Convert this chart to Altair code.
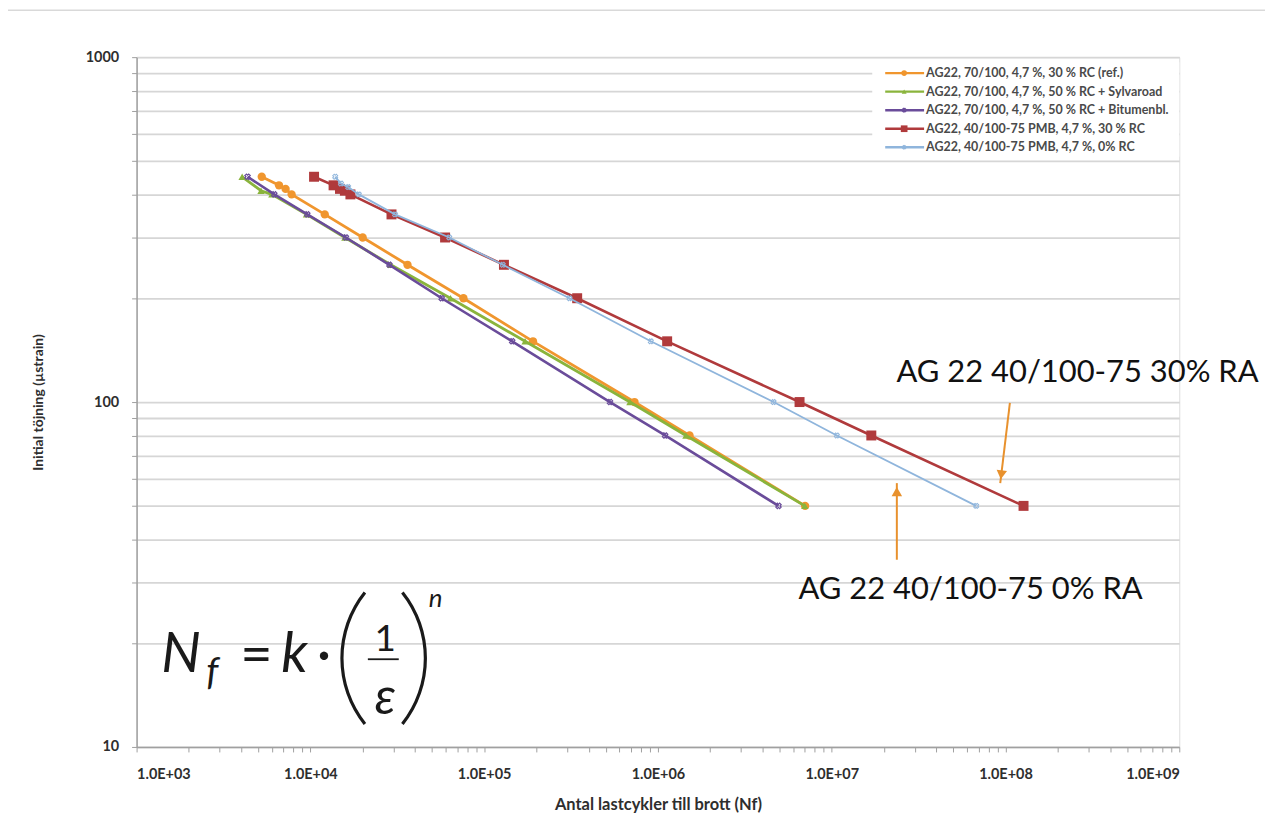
import altair as alt
import pandas as pd
import math

# ---------------- data ----------------
series_names = [
    "AG22, 70/100, 4,7 %, 30 % RC (ref.)",
    "AG22, 70/100, 4,7 %, 50 % RC + Sylvaroad",
    "AG22, 70/100, 4,7 %, 50 % RC + Bitumenbl.",
    "AG22, 40/100-75 PMB, 4,7 %, 30 % RC",
    "AG22, 40/100-75 PMB, 4,7 %, 0% RC",
]
series_colors = ["#F0962E", "#8AB43C", "#6A4C9A", "#B03A3C", "#8FB5DC"]

ref_strain = [450, 425, 415, 400, 350, 300, 250, 200, 150, 100, 80, 50]
ref_cycles = [5.25e3, 6.6e3, 7.2e3, 7.8e3, 1.21e4, 2.0e4, 3.62e4, 7.6e4, 1.91e5, 7.33e5, 1.52e6, 7.03e6]

syl_strain = [450, 410, 400, 350, 300, 250, 200, 150, 100, 80, 50]
syl_cycles = [4.05e3, 5.2e3, 6.0e3, 9.5e3, 1.58e4, 2.9e4, 6.4e4, 1.72e5, 6.9e5, 1.45e6, 7.0e6]

bit_strain = [450, 400, 350, 300, 250, 200, 150, 100, 80, 50]
bit_cycles = [4.35e3, 6.2e3, 9.6e3, 1.6e4, 2.85e4, 5.7e4, 1.45e5, 5.3e5, 1.1e6, 4.94e6]

pmb30_strain = [450, 425, 415, 410, 400, 350, 300, 250, 200, 150, 100, 80, 50]
pmb30_cycles = [1.05e4, 1.36e4, 1.48e4, 1.58e4, 1.70e4, 2.93e4, 5.96e4, 1.30e5, 3.43e5, 1.13e6, 6.53e6, 1.69e7, 1.27e8]

pmb0_strain = [450, 430, 420, 400, 350, 300, 250, 200, 150, 100, 80, 50]
pmb0_cycles = [1.39e4, 1.5e4, 1.65e4, 1.9e4, 3.07e4, 6.3e4, 1.28e5, 3.1e5, 9.1e5, 4.63e6, 1.07e7, 6.78e7]

x_tick_values = [m * 10 ** e for e in range(3, 9) for m in range(1, 10)] + [10 ** 9]
y_tick_values = [m * 10 ** e for e in range(1, 3) for m in range(1, 10)] + [1000]

# annotations (data coordinates)
label_30 = "AG 22 40/100-75 30% RA"
label_0 = "AG 22 40/100-75 0% RA"
label_30_pos = (2.36e7, 121.0)
label_0_pos = (6.44e6, 28.6)
arrow_30 = ((1.06e8, 99.5), (9.33e7, 58.2), (9.46e7, 61.5))  # start, tip, head centre
arrow_0 = ((2.37e7, 34.9), (2.37e7, 58.2), (2.37e7, 55.0))

# ---------------- styling ----------------
W, H = 1046, 692
FONT = "Lato"
FORMULA_FONT = "Lato"
ARROW_COLOR = "#E8912D"

xscale = alt.Scale(type="log", domain=[1e3, 1e9], nice=False)
yscale = alt.Scale(type="log", domain=[10, 1000], nice=False)

dec_test = "abs(log(datum.value)/LN10 - round(log(datum.value)/LN10)) < 0.001"
xaxis = alt.Axis(
    values=x_tick_values, grid=False, tickSize=5, tickColor="#A0A0A0", tickWidth=1,
    domainColor="#A0A0A0", domainWidth=1.5,
    labelExpr=f"{dec_test} ? '1.0E+0' + round(log(datum.value)/LN10) : ''",
    labelOverlap=False, labelFont=FONT, labelFontWeight="bold", labelFontSize=14.5,
    labelColor="#2E2E2E", labelPadding=16, title="Antal lastcykler till brott (Nf)",
    titleFont=FONT, titleFontWeight="bold", titleFontSize=16.5, titleColor="#2E2E2E",
    titlePadding=15,
)
yaxis = alt.Axis(
    values=y_tick_values, grid=True, gridColor="#D6D6D6", gridWidth=1.8,
    tickSize=5, tickColor="#A0A0A0", tickWidth=1, domainColor="#A0A0A0", domainWidth=1.5,
    labelExpr=f"{dec_test} ? format(datum.value, 'd') : ''",
    labelOverlap=False, labelFont=FONT, labelFontWeight="bold", labelFontSize=14.5,
    labelColor="#2E2E2E", labelPadding=13, title="Initial töjning (µstrain)",
    titleFont=FONT, titleFontWeight="bold", titleFontSize=14, titleColor="#2E2E2E",
    titlePadding=40,
)


def X(field="cycles"):
    return alt.X(f"{field}:Q", scale=xscale, axis=xaxis)


def Y(field="strain"):
    return alt.Y(f"{field}:Q", scale=yscale, axis=yaxis)


marker_styles = [
    dict(shape="circle", size=70, filled=True),
    dict(shape="triangle-up", size=55, filled=True),
    dict(shape="cross", size=30, filled=False, strokeWidth=1.2, angle=45),
    dict(shape="square", size=100, filled=True),
    dict(shape="cross", size=26, filled=False, strokeWidth=1.0, angle=45),
]
line_widths = [2.8, 2.8, 2.6, 2.6, 1.8]

all_series = [
    (ref_cycles, ref_strain),
    (syl_cycles, syl_strain),
    (bit_cycles, bit_strain),
    (pmb30_cycles, pmb30_strain),
    (pmb0_cycles, pmb0_strain),
]

one = pd.DataFrame({"a": [0]})
layers = []
# legend background box over the grid
layers.append(alt.Chart(one).mark_rect(color="white").encode(
    x=alt.value(738), x2=alt.value(W), y=alt.value(5), y2=alt.value(100)))
# thin frame line at the top of the picture
layers.append(alt.Chart(one).mark_rule(color="#D9D9D9", strokeWidth=1.5).encode(
    x=alt.value(-129), x2=alt.value(W + 86), y=alt.value(-47)))

for name, color, (cyc, stn), mstyle, lw in zip(series_names, series_colors, all_series, marker_styles, line_widths):
    df = pd.DataFrame({"cycles": cyc, "strain": stn, "series": name})
    base = alt.Chart(df)
    layers.append(base.mark_line(color=color, strokeWidth=lw).encode(x=X(), y=Y()))
    layers.append(base.mark_point(color=color, opacity=1, **mstyle).encode(x=X(), y=Y()))

# legend (manual, top right)
for i, (name, color, mstyle) in enumerate(zip(series_names, series_colors, marker_styles)):
    ry = 16 + 18.6 * i
    layers.append(alt.Chart(one).mark_rule(color=color, strokeWidth=2.4).encode(
        x=alt.value(751), x2=alt.value(790), y=alt.value(ry)))
    ms = dict(mstyle)
    ms["size"] = ms["size"] * 0.45
    layers.append(alt.Chart(one).mark_point(color=color, opacity=1, **ms).encode(
        x=alt.value(770), y=alt.value(ry)))
    layers.append(alt.Chart(pd.DataFrame({"t": [name]})).mark_text(
        align="left", baseline="middle", font=FONT, fontSize=12.5, fontWeight="bold",
        color="#4A4A4A").encode(x=alt.value(792), y=alt.value(ry), text="t:N"))

# annotations with arrows
for (start, tip, head), shape, ang in [(arrow_30, "triangle-down", 7), (arrow_0, "triangle-up", 0)]:
    seg = pd.DataFrame({"cycles": [start[0]], "strain": [start[1]], "c2": [tip[0]], "s2": [tip[1]]})
    layers.append(alt.Chart(seg).mark_rule(color=ARROW_COLOR, strokeWidth=2).encode(
        x=X(), y=Y(), x2="c2:Q", y2="s2:Q"))
    hd = pd.DataFrame({"cycles": [head[0]], "strain": [head[1]]})
    layers.append(alt.Chart(hd).mark_point(shape=shape, filled=True, size=110, angle=ang,
                                            color=ARROW_COLOR, opacity=1).encode(x=X(), y=Y()))

for text, (cx, cy) in [(label_30, label_30_pos), (label_0, label_0_pos)]:
    tdf = pd.DataFrame({"cycles": [cx], "strain": [cy], "t": [text]})
    layers.append(alt.Chart(tdf).mark_text(align="left", baseline="middle", font=FONT,
                                           fontSize=31, color="#111111").encode(
        x=X(), y=Y(), text="t:N"))

# fatigue formula  N_f = k * (1/eps)^n
formula_parts = [
    ("N", 24.7, 617, 56, "italic", "left"),
    ("f", 70, 630, 38, "italic", "left"),
    ("=", 104, 618, 56, "normal", "left"),
    ("k", 145, 617, 56, "italic", "left"),
    ("·", 188, 618, 56, "normal", "center"),
    ("1", 249.5, 596, 37, "normal", "center"),
    ("ε", 249.5, 659, 50, "italic", "center"),
    ("n", 293, 552, 26, "italic", "left"),
]
for txt, px, py, fs, style, al in formula_parts:
    layers.append(alt.Chart(pd.DataFrame({"t": [txt]})).mark_text(
        align=al, baseline="alphabetic", font=FORMULA_FONT, fontSize=fs, fontStyle=style,
        color="#1A1A1A").encode(x=alt.value(px), y=alt.value(py), text="t:N"))
layers.append(alt.Chart(one).mark_rule(color="#1A1A1A", strokeWidth=1.8).encode(
    x=alt.value(232), x2=alt.value(263), y=alt.value(604)))
# parentheses as thin arcs
R = 106
half = math.asin(66 / R)
layers.append(alt.Chart(one).mark_arc(
    theta=1.5 * math.pi - half, theta2=1.5 * math.pi + half, radius=R + 1.6, radius2=R - 1.6,
    color="#1A1A1A").encode(x=alt.value(206 + R), y=alt.value(603)))
layers.append(alt.Chart(one).mark_arc(
    theta=0.5 * math.pi - half, theta2=0.5 * math.pi + half, radius=R + 1.6, radius2=R - 1.6,
    color="#1A1A1A").encode(x=alt.value(289.7 - R), y=alt.value(603)))

chart = alt.layer(*layers).properties(
    width=W, height=H,
    autosize=alt.AutoSizeParams(type="none"),
    padding={"left": 129, "top": 48, "right": 86, "bottom": 80},
).configure_view(stroke=None).configure(background="white")

chart.save("out.html", embed_options={"renderer": "svg", "actions": False})
